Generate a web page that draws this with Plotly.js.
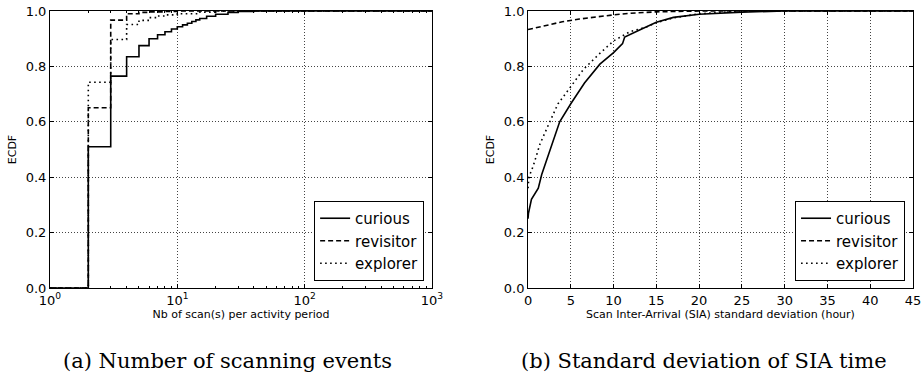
<!DOCTYPE html>
<html>
<head>
<meta charset="utf-8">
<script src="https://cdn.plot.ly/plotly-3.0.1.min.js"></script>
<style>html,body{margin:0;padding:0;background:#fff;}#chart{width:922px;height:374px;}</style>
</head>
<body>
<div id="chart"></div>
<script>
// ---- Panel (a): number of scans per activity period (log x) ----
const aCuriousX  = [1, 2, 3, 4, 5, 6, 7, 8, 9, 10, 11, 12, 13, 14, 15, 17, 20, 25, 30, 40, 1000];
const aCuriousY  = [0, 0.51, 0.765, 0.835, 0.875, 0.900, 0.914, 0.925, 0.935, 0.943, 0.950, 0.956, 0.962, 0.968, 0.973, 0.981, 0.988, 0.995, 0.998, 1.0, 1.0];
const aRevisitX  = [1, 2, 3, 4, 5, 6, 8, 10, 1000];
const aRevisitY  = [0, 0.651, 0.967, 0.990, 0.995, 0.997, 0.998, 1.0, 1.0];
const aExplorerX = [1, 2, 3, 4, 5, 6, 7, 8, 10, 15, 20, 1000];
const aExplorerY = [0, 0.743, 0.897, 0.951, 0.966, 0.976, 0.982, 0.986, 0.990, 0.996, 1.0, 1.0];

// ---- Panel (b): SIA standard deviation (hours) ----
const bCuriousX  = [0, 0.05, 0.4, 1.2, 1.6, 2.6, 3.7, 5.0, 6.6, 8.4, 10, 11.05, 11.3, 13.1, 15, 17, 20, 25, 30, 45];
const bCuriousY  = [0.25, 0.27, 0.32, 0.36, 0.41, 0.50, 0.60, 0.665, 0.74, 0.808, 0.85, 0.882, 0.906, 0.932, 0.959, 0.977, 0.988, 0.996, 1.0, 1.0];
const bRevisitX  = [0, 2, 4, 6, 8, 10, 12, 15, 20, 45];
const bRevisitY  = [0.933, 0.948, 0.961, 0.971, 0.979, 0.986, 0.992, 0.997, 1.0, 1.0];
const bExplorerX = [0, 0.1, 0.6, 1.4, 2.4, 3.5, 5, 6.5, 8.4, 10, 11.9, 13.9, 15, 17, 20, 25, 45];
const bExplorerY = [0.36, 0.40, 0.44, 0.52, 0.59, 0.665, 0.727, 0.79, 0.847, 0.892, 0.925, 0.943, 0.958, 0.975, 0.99, 1.0, 1.0];

const seriesNames = ['curious', 'revisitor', 'explorer'];
const dashes = ['solid', '5px,3px', '1.6px,3.4px'];
const xTickVals = [1, 10, 100, 1000];
const xTickText = ['10<sup>0</sup>', '10<sup>1</sup>', '10<sup>2</sup>', '10<sup>3</sup>'];

const FONT = 'DejaVu Sans, sans-serif';
const SERIF = 'DejaVu Serif, serif';
const aX = [aCuriousX, aRevisitX, aExplorerX], aY = [aCuriousY, aRevisitY, aExplorerY];
const bX = [bCuriousX, bRevisitX, bExplorerX], bY = [bCuriousY, bRevisitY, bExplorerY];

const traces = [];
for (let i = 0; i < 3; i++) {
  traces.push({x: aX[i], y: aY[i], name: seriesNames[i], mode: 'lines', line: {shape: 'hv', color: '#000', width: 1.6, dash: dashes[i]}, xaxis: 'x', yaxis: 'y', legend: 'legend'});
}
for (let i = 0; i < 3; i++) {
  traces.push({x: bX[i], y: bY[i], name: seriesNames[i], mode: 'lines', line: {shape: 'linear', color: '#000', width: 1.6, dash: dashes[i]}, xaxis: 'x2', yaxis: 'y2', legend: 'legend2'});
}

const common = {
  showline: true, linecolor: '#000', linewidth: 1, mirror: 'allticks',
  ticks: 'inside', ticklen: 4, tickcolor: '#000',
  showgrid: true, gridcolor: '#444', griddash: '1px,2px', gridwidth: 1,
  zeroline: false, tickfont: {family: FONT, size: 13, color: '#000'}
};
const yCommon = Object.assign({}, common, {range: [0, 1], dtick: 0.2, tickformat: '.1f',
  title: {text: 'ECDF', font: {family: FONT, size: 11, color: '#000'}, standoff: 6}});

const layout = {
  width: 922, height: 374,
  margin: {l: 0, r: 0, t: 0, b: 0},
  paper_bgcolor: '#fff', plot_bgcolor: '#fff',
  font: {family: FONT, color: '#000'},
  xaxis: Object.assign({}, common, {type: 'log', range: [0, 3], domain: [0.0542, 0.4685], anchor: 'y',
    tickvals: xTickVals, ticktext: xTickText,
    minor: {ticks: 'inside', ticklen: 2, tickcolor: '#000', showgrid: false, dtick: 'D1'},
    title: {text: 'Nb of scan(s) per activity period', font: {family: FONT, size: 11, color: '#000'}, standoff: 3}}),
  yaxis: Object.assign({}, yCommon, {domain: [0.2299, 0.9706], anchor: 'x'}),
  xaxis2: Object.assign({}, common, {range: [0, 45], dtick: 5, domain: [0.5727, 0.9902], anchor: 'y2',
    title: {text: 'Scan Inter-Arrival (SIA) standard deviation (hour)', font: {family: FONT, size: 11, color: '#000'}, standoff: 3}}),
  yaxis2: Object.assign({}, yCommon, {domain: [0.2299, 0.9706], anchor: 'x2'}),
  legend: {x: 0.46, xanchor: 'right', y: 0.2487, yanchor: 'bottom', bgcolor: '#fff', bordercolor: '#000', borderwidth: 1,
    font: {family: FONT, size: 15, color: '#000'}, tracegroupgap: 0},
  legend2: {x: 0.9816, xanchor: 'right', y: 0.2487, yanchor: 'bottom', bgcolor: '#fff', bordercolor: '#000', borderwidth: 1,
    font: {family: FONT, size: 15, color: '#000'}, tracegroupgap: 0},
  annotations: [
    {text: '(a) Number of scanning events', xref: 'paper', yref: 'paper', x: 0.2468, y: 0.034, xanchor: 'center', yanchor: 'middle', showarrow: false,
      font: {family: SERIF, size: 21, color: '#000'}},
    {text: '(b) Standard deviation of SIA time', xref: 'paper', yref: 'paper', x: 0.7636, y: 0.034, xanchor: 'center', yanchor: 'middle', showarrow: false,
      font: {family: SERIF, size: 21, color: '#000'}}
  ]
};

Plotly.newPlot('chart', traces, layout, {staticPlot: true, displayModeBar: false});
</script>
</body>
</html>
